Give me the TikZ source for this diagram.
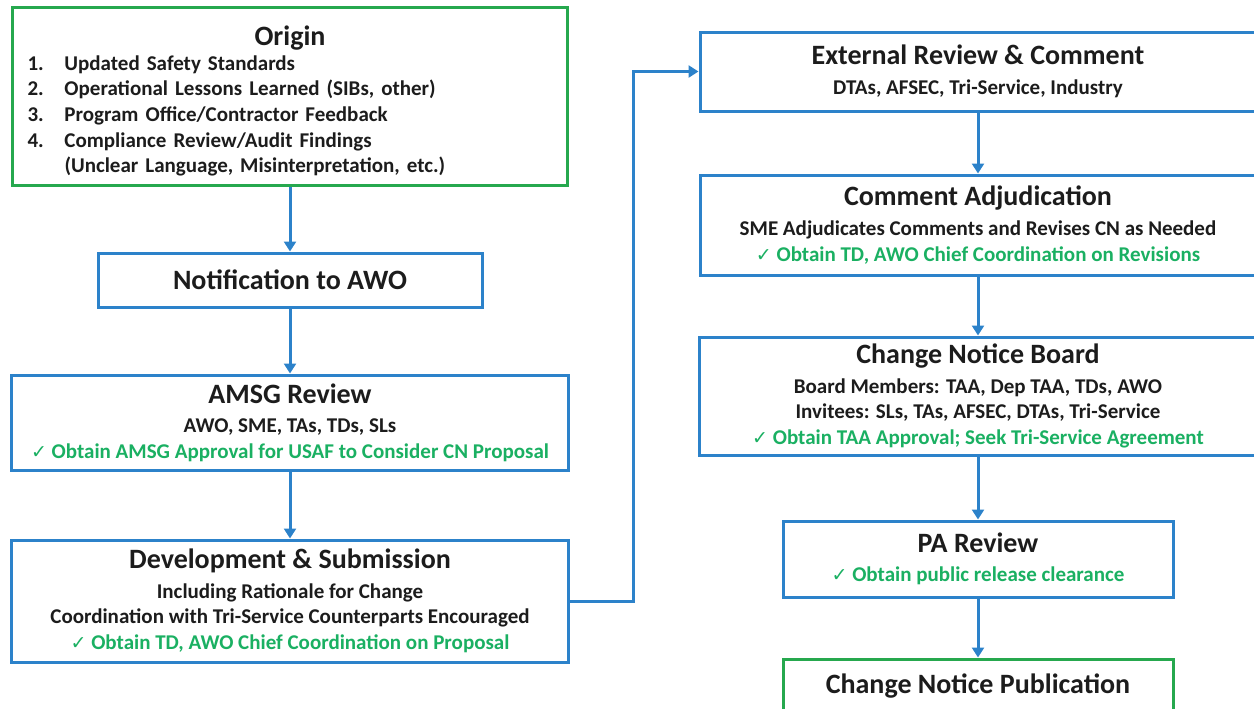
\documentclass[tikz,border=0pt]{standalone}
\usepackage{fontspec}
\setmainfont{Carlito}
\newfontfamily\symfont{DejaVu Sans}
\usetikzlibrary{arrows.meta}

\definecolor{flowblue}{RGB}{44,130,202}
\definecolor{edgegreen}{RGB}{38,168,78}
\definecolor{okgreen}{RGB}{26,176,98}
\definecolor{inkgray}{RGB}{28,28,28}

\newcommand{\ttl}[1]{{\fontsize{14}{16}\selectfont #1}}
\newcommand{\ok}[1]{\textcolor{okgreen}{{\symfont\fontsize{9.5}{10}\selectfont ✓}\ #1}}
\newcommand{\itm}[1]{\makebox[18.5pt][l]{#1}}

\tikzset{
	stage/.style={draw=flowblue, line width=1.5pt, fill=white, align=center,
		inner sep=2pt, text=inkgray, font=\fontsize{10.5}{12.8}\selectfont\bfseries},
	endstage/.style={stage, draw=edgegreen},
	flow/.style={draw=flowblue, line width=1.5pt, -{Triangle[length=5pt,width=6pt]}},
}

\begin{document}
\begin{tikzpicture}[x=0.5pt,y=-0.5pt]

	\useasboundingbox (0,0) rectangle (1254,708);

	% ---- left column

	\node[endstage, align=left, text width=262.5pt, inner xsep=7.5pt, inner ysep=0pt,
		minimum width=277.5pt, minimum height=89pt] (origin) at (290,96)
		{\hbox to\hsize{\rule{0pt}{15pt}\hss\ttl{Origin}\hss}\\[-0.5pt]
		\itm{1.}Updated Safety Standards\\
		\itm{2.}Operational Lessons Learned (SIBs, other)\\
		\itm{3.}Program Office/Contractor Feedback\\
		\itm{4.}Compliance Review/Audit Findings\\
		\hspace*{18.5pt}(Unclear Language, Misinterpretation, etc.)};

	\node[stage, minimum width=192pt, minimum height=27pt] (notif) at (290,280)
		{\ttl{Notification to AWO}};

	\node[stage, minimum width=278.5pt, minimum height=47.5pt] (amsg) at (290,422.5)
		{\ttl{AMSG Review}\\[2pt]
		AWO, SME, TAs, TDs, SLs\\
		\ok{Obtain AMSG Approval for USAF to Consider CN Proposal}};

	\node[stage, minimum width=278.5pt, minimum height=61pt] (dev) at (290,601)
		{\ttl{Development \& Submission}\\[2pt]
		Including Rationale for Change\\
		Coordination with Tri-Service Counterparts Encouraged\\
		\ok{Obtain TD, AWO Chief Coordination on Proposal}};

	% ---- right column

	\node[stage, minimum width=278pt, minimum height=39.5pt] (ext) at (978,71.5)
		{\ttl{External Review \& Comment}\\[2pt]
		DTAs, AFSEC, Tri-Service, Industry};

	\node[stage, minimum width=278pt, minimum height=50pt] (adj) at (978,225)
		{\ttl{Comment Adjudication}\\[2pt]
		SME Adjudicates Comments and Revises CN as Needed\\
		\ok{Obtain TD, AWO Chief Coordination on Revisions}};

	\node[stage, minimum width=279pt, minimum height=59pt] (board) at (978,396)
		{\ttl{Change Notice Board}\\[2pt]
		Board Members: TAA, Dep TAA, TDs, AWO\\
		Invitees: SLs, TAs, AFSEC, DTAs, Tri-Service\\
		\ok{Obtain TAA Approval; Seek Tri-Service Agreement}};

	\node[stage, minimum width=195pt, minimum height=38pt] (pa) at (978,559)
		{\ttl{PA Review}\\[2pt]
		\ok{Obtain public release clearance}};

	\node[endstage, minimum width=195pt, minimum height=27pt] (pub) at (978,686)
		{\ttl{Change Notice Publication}};

	% ---- connectors

	\draw[flow] (origin.south) -- (notif.north);
	\draw[flow] (notif.south) -- (amsg.north);
	\draw[flow] (amsg.south) -- (dev.north);

	\coordinate (jog) at (633,71.5);
	\draw[flow] (dev.east) -| (jog) -- (ext.west);

	\draw[flow] (ext.south) -- (adj.north);
	\draw[flow] (adj.south) -- (board.north);
	\draw[flow] (board.south) -- (pa.north);
	\draw[flow] (pa.south) -- (pub.north);

\end{tikzpicture}
\end{document}
